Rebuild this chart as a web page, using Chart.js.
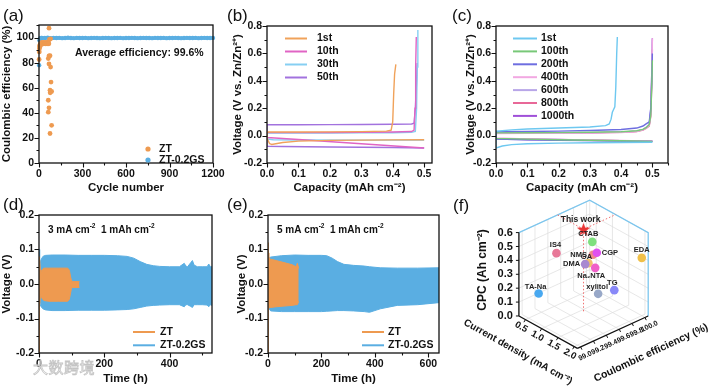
<!DOCTYPE html>
<html>
<head>
<meta charset="utf-8">
<script src="https://cdn.jsdelivr.net/npm/chart.js@4.4.1/dist/chart.umd.min.js"></script>
<style>
  body { margin: 0; background: #fff; }
  #fig { position: relative; width: 709px; height: 386px; overflow: hidden; font-family: 'Liberation Sans', Arial, sans-serif; }
  #fig canvas { position: absolute; }
  .tag { position: absolute; font-size: 17px; line-height: 17px; color: #111; }
  .wm { position: absolute; left: 33px; top: 359px; font-family: 'Noto Sans CJK SC', sans-serif; font-size: 15px; line-height: 16px;
        color: rgba(255,255,255,0.5); -webkit-text-stroke: 0.8px #c4c4c4; letter-spacing: 0.5px; }
</style>
</head>
<body>
<div id="fig">
  <canvas id="ca" width="235" height="195" style="left:0;top:0"></canvas>
  <canvas id="cb" width="239" height="195" style="left:231px;top:0"></canvas>
  <canvas id="cc" width="245" height="195" style="left:464px;top:0"></canvas>
  <canvas id="cd" width="235" height="191" style="left:0;top:195px"></canvas>
  <canvas id="ce" width="235" height="191" style="left:235px;top:195px"></canvas>
  <canvas id="cf" width="249" height="191" style="left:460px;top:195px"></canvas>
  <div class="tag" style="left:3px;top:7px">(a)</div>
  <div class="tag" style="left:227px;top:7px">(b)</div>
  <div class="tag" style="left:452px;top:7px">(c)</div>
  <div class="tag" style="left:3px;top:196px">(d)</div>
  <div class="tag" style="left:227px;top:196px">(e)</div>
  <div class="tag" style="left:453px;top:197px">(f)</div>
  <div class="wm">大数跨境</div>
</div>
<script>
// ---------- data ----------
// (a) coulombic efficiency vs cycle
const ztCycles = [1, 2, 3, 4, 5, 6, 8, 10, 12, 14, 16, 18, 20, 23, 26, 29, 32, 35, 38, 41, 44, 47, 50, 53, 56, 59, 62, 65, 68, 72,
                  69, 80, 69, 64, 76, 69, 80, 83, 76, 87, 77, 64, 69, 64, 87, 76];
const ztCE = [82.5, 88.5, 91, 92.5, 93.5, 94, 93, 95, 94.5, 95.5, 95, 96, 95, 96, 95.5, 96, 95, 96, 95.5, 96, 95, 96, 95.5, 96, 95, 96, 95.5, 96.5, 95, 98.5,
              107.5, 99, 85.3, 83.2, 85.5, 79, 76.5, 64.5, 58, 57, 56, 50, 44, 40.5, 30, 23.5];
const gsCycles = [1, 3, 6, 10, 15, 20, 40, 60, 80, 100, 120, 140, 160, 180, 200, 220, 240, 260, 280, 300, 320, 340, 360, 380, 400,
                  420, 440, 460, 480, 500, 520, 540, 560, 580, 600, 620, 640, 660, 680, 700, 720, 740, 760, 780, 800, 820, 840, 860,
                  880, 900, 920, 940, 960, 980, 1000, 1020, 1040, 1060, 1080, 1100, 1120, 1140, 1160, 1180, 1200];
const gsCE = [78.0, 97.8, 99.1, 99.4, 99.6, 99.7, 99.6, 99.8, 99.5, 99.7, 99.6, 99.7, 99.5, 99.6, 99.8, 99.6, 99.5, 99.7, 99.6, 99.6,
              99.7, 99.5, 99.6, 99.7, 99.6, 99.5, 99.6, 99.7, 99.6, 99.5, 99.6, 99.6, 99.7, 99.5, 99.6, 99.6, 99.7, 99.6, 99.5, 99.6,
              99.7, 99.6, 99.6, 99.5, 99.7, 99.6, 99.6, 99.7, 99.5, 99.6, 99.6, 99.7, 99.6, 99.5, 99.6, 99.7, 99.6, 99.6, 99.7, 99.5,
              99.6, 99.7, 99.6, 99.6, 99.7];

// (b) ZT voltage profiles
const bLabels = ['1st', '10th', '30th', '50th'];
const b1Cap = [0.5, 0.4, 0.3, 0.2, 0.1, 0.05, 0.015, 0.008, 0, 0, 0.1, 0.2, 0.3, 0.38, 0.395, 0.4, 0.403, 0.406, 0.41];
const b1Volt = [-0.03, -0.031, -0.033, -0.035, -0.04, -0.05, -0.065, -0.058, -0.02, 0.026, 0.026, 0.027, 0.029, 0.033, 0.04, 0.1, 0.3, 0.45, 0.52];
const b10Cap = [0.5, 0.3, 0.1, 0, 0, 0.1, 0.2, 0.3, 0.4, 0.46, 0.468, 0.471, 0.473, 0.475];
const b10Volt = [-0.09, -0.06, -0.029, -0.014, 0.022, 0.022, 0.023, 0.024, 0.026, 0.03, 0.04, 0.2, 0.5, 0.72];
const b30Cap = [0.5, 0.3, 0.1, 0.02, 0, 0, 0.1, 0.2, 0.3, 0.4, 0.46, 0.472, 0.476, 0.478, 0.48];
const b30Volt = [-0.033, -0.033, -0.032, -0.03, -0.025, 0.018, 0.018, 0.019, 0.02, 0.021, 0.024, 0.03, 0.2, 0.5, 0.77];
const b50Cap = [0.5, 0.4, 0.2, 0.05, 0, 0, 0.1, 0.2, 0.3, 0.4, 0.46, 0.468, 0.472, 0.476, 0.478];
const b50Volt = [-0.09, -0.087, -0.083, -0.08, -0.079, 0.079, 0.079, 0.08, 0.081, 0.083, 0.085, 0.09, 0.2, 0.4, 0.53];

// (c) ZT-0.2GS voltage profiles
const cLabels = ['1st', '100th', '200th', '400th', '600th', '800th', '1000th'];
const c1Cap = [0.5, 0.4, 0.3, 0.2, 0.1, 0.05, 0.02, 0, 0, 0.05, 0.1, 0.2, 0.3, 0.35, 0.362, 0.368, 0.372, 0.376, 0.38, 0.383, 0.386, 0.388];
const c1Volt = [-0.048, -0.05, -0.052, -0.055, -0.06, -0.066, -0.076, -0.09, 0.032, 0.042, 0.048, 0.055, 0.063, 0.073, 0.085, 0.12, 0.17, 0.19, 0.21, 0.35, 0.6, 0.72];
const cCapN = [0.5, 0.4, 0.3, 0.2, 0.1, 0, 0, 0.1, 0.2, 0.3, 0.4, 0.45, 0.47, 0.48, 0.49, 0.495, 0.498, 0.5];
const c100Volt = [-0.042, -0.038, -0.034, -0.03, -0.026, -0.02, 0.02, 0.021, 0.022, 0.024, 0.028, 0.035, 0.045, 0.058, 0.08, 0.15, 0.35, 0.55];
const c200Volt = [-0.043, -0.04, -0.037, -0.034, -0.03, -0.025, 0.028, 0.03, 0.033, 0.037, 0.045, 0.055, 0.07, 0.085, 0.1, 0.2, 0.4, 0.6];
const c400Volt = [-0.04, -0.036, -0.032, -0.028, -0.024, -0.018, 0.015, 0.016, 0.017, 0.019, 0.023, 0.03, 0.042, 0.055, 0.075, 0.15, 0.4, 0.71];
const c600Volt = [-0.042, -0.039, -0.036, -0.033, -0.03, -0.026, 0.018, 0.019, 0.02, 0.022, 0.026, 0.033, 0.045, 0.06, 0.085, 0.2, 0.45, 0.7];
const c800Volt = [-0.04, -0.037, -0.034, -0.031, -0.028, -0.022, 0.016, 0.017, 0.018, 0.02, 0.024, 0.03, 0.04, 0.052, 0.07, 0.14, 0.38, 0.63];
const c1000Volt = [-0.041, -0.037, -0.033, -0.029, -0.025, -0.02, 0.017, 0.018, 0.019, 0.021, 0.025, 0.032, 0.043, 0.057, 0.08, 0.18, 0.45, 0.71];

// (d) 3 mA cm-2 cycling: envelope of the voltage oscillation
const dGsTime = [0, 2, 6, 12, 20, 40, 80, 120, 160, 200, 240, 270, 290, 310, 330, 350, 370, 400, 430, 445, 450, 455, 465, 470, 475, 485, 500, 515, 520, 525, 530];
const dGsUpper = [0.1, 0.05, 0.07, 0.08, 0.083, 0.084, 0.084, 0.083, 0.083, 0.083, 0.082, 0.08, 0.075, 0.065, 0.057, 0.053, 0.051, 0.05, 0.05, 0.06, 0.052, 0.05, 0.062, 0.068, 0.055, 0.05, 0.05, 0.05, 0.058, 0.05, 0.05];
const dGsLower = [-0.05, -0.05, -0.065, -0.072, -0.075, -0.077, -0.077, -0.076, -0.076, -0.076, -0.075, -0.074, -0.072, -0.068, -0.064, -0.062, -0.061, -0.06, -0.06, -0.066, -0.06, -0.06, -0.065, -0.068, -0.06, -0.06, -0.06, -0.061, -0.066, -0.06, -0.062];
const dZtTime = [2, 5, 8, 15, 30, 60, 88, 93, 97, 100, 110, 120, 124];
const dZtUpper = [0.07, 0.03, 0.04, 0.046, 0.046, 0.046, 0.046, 0.04, 0.02, 0.008, 0.007, 0.007, 0.007];
const dZtLower = [-0.06, -0.03, -0.04, -0.048, -0.05, -0.05, -0.05, -0.044, -0.025, -0.01, -0.01, -0.01, -0.01];
const dZtSpikeTime = [1, 1];
const dZtSpikeVolt = [-0.2, 0.08];

// (e) 5 mA cm-2 cycling
const eGsTime = [0, 3, 10, 50, 100, 150, 200, 220, 240, 260, 284, 320, 360, 380, 420, 484, 560, 640];
const eGsUpper = [0.05, 0.075, 0.078, 0.082, 0.084, 0.083, 0.083, 0.082, 0.075, 0.065, 0.057, 0.054, 0.052, 0.05, 0.047, 0.046, 0.046, 0.047];
const eGsLower = [-0.05, -0.07, -0.078, -0.08, -0.08, -0.08, -0.08, -0.079, -0.078, -0.077, -0.077, -0.078, -0.08, -0.082, -0.072, -0.062, -0.06, -0.054];
const eZtTime = [1, 3, 10, 30, 60, 90, 105, 110, 115];
const eZtUpper = [0.09, 0.075, 0.072, 0.068, 0.062, 0.056, 0.05, 0.06, 0.045];
const eZtLower = [-0.07, -0.07, -0.068, -0.066, -0.064, -0.062, -0.06, -0.06, -0.05];
const eZtSpikeTime = [1, 1];
const eZtSpikeVolt = [-0.2, 0.12];

// (f) comparison with other additives
const additives = ['This work', 'CTAB', 'IS4', 'NMS', 'CGP', 'GA', 'DMA', 'Na\u2082NTA', 'EDA', 'TG', 'xylitol', 'TA-Na'];
const currentDensity = [1.1, 1.35, 0.94, 1.37, 1.45, 1.31, 1.21, 1.42, 2.06, 1.73, 1.49, 0.61];
const coulombicEff = [99.55, 99.56, 99.21, 99.56, 99.58, 99.52, 99.52, 99.57, 99.97, 99.71, 99.58, 99.10];
const cpcValues = [0.6, 0.54, 0.48, 0.45, 0.47, 0.39, 0.37, 0.36, 0.43, 0.21, 0.18, 0.17];
const cpcTicks = [0, 0.1, 0.2, 0.3, 0.4, 0.5, 0.6];
const cdTicks = [0.5, 1.0, 1.5, 2.0];
const ceTicks = [99.0, 99.2, 99.4, 99.6, 99.8, 100.0];

// ---------- styles ----------
const FONT = "'Liberation Sans', Arial, sans-serif";
const ORANGE = '#EE9A50';
const BLUE = '#5AAEE2';
const bColors = ['#F0A25A', '#E064C4', '#86CFF2', '#A272DE'];
const cColors = ['#6EC8F0', '#78C878', '#6E6EE0', '#F2A8E2', '#B8A6E8', '#E86898', '#A050D8'];
const fColors = ['#E83535', '#7EE07E', '#E87898', '#F08888', '#E050F0', '#F0C070', '#A888D0', '#F060C8', '#F0C048', '#8888F8', '#98A8C8', '#48A8F0'];

const isMul = (v, m) => Math.abs(v / m - Math.round(v / m)) < 1e-6;
const zip = (xs, ys) => xs.map((x, i) => ({ x: x, y: ys[i] }));

function axis(min, max, step, major, fmt, title, size, isX) {
  return {
    type: 'linear', min: min, max: max,
    grid: { display: false, drawTicks: false },
    border: { display: false },
    ticks: {
      stepSize: step, autoSkip: false, includeBounds: false, maxRotation: 0, padding: 5, color: '#111',
      font: { family: FONT, size: 10.5, weight: 'bold' },
      callback: v => isMul(v, major) ? fmt(v) : ''
    },
    title: { display: true, text: title, color: '#111', padding: 0, font: { family: FONT, size: 11.5, weight: 'bold' } },
    afterFit: s => { if (isX) s.height = size; else s.width = size; }
  };
}

// frame box + outward major/minor ticks
const frameTicks = {
  id: 'frameTicks',
  afterDatasetsDraw(chart) {
    const { ctx, chartArea: a } = chart;
    const xs = chart.scales.x, ys = chart.scales.y;
    ctx.save();
    ctx.strokeStyle = '#111';
    ctx.lineWidth = 1.1;
    ctx.beginPath();
    xs.ticks.forEach(t => {
      const p = Math.round(xs.getPixelForValue(t.value)) + 0.5;
      ctx.moveTo(p, a.bottom); ctx.lineTo(p, a.bottom + (t.label === '' ? 2.5 : 4.5));
    });
    ys.ticks.forEach(t => {
      const p = Math.round(ys.getPixelForValue(t.value)) + 0.5;
      ctx.moveTo(a.left, p); ctx.lineTo(a.left - (t.label === '' ? 2.5 : 4.5), p);
    });
    ctx.stroke();
    ctx.lineWidth = 1.3;
    ctx.strokeRect(a.left, a.top, a.right - a.left, a.bottom - a.top);
    ctx.restore();
  }
};

function drawRich(ctx, parts, x, y, size) {
  let cx = x;
  parts.forEach(p => {
    const sup = p[1];
    ctx.font = 'bold ' + (sup ? size * 0.65 : size) + 'px ' + FONT;
    ctx.fillText(p[0], cx, sup ? y - size * 0.38 : y);
    cx += ctx.measureText(p[0]).width;
  });
}

function deco(spec) {
  return {
    id: 'deco',
    afterDraw(chart) {
      const ctx = chart.ctx;
      ctx.save();
      ctx.textBaseline = 'middle';
      ctx.textAlign = 'left';
      ctx.fillStyle = '#111';
      (spec.texts || []).forEach(t => drawRich(ctx, t.parts, t.x, t.y, t.size));
      const lg = spec.legend;
      if (lg) {
        lg.labels.forEach((lab, i) => {
          const y = lg.y + i * lg.dy;
          ctx.fillStyle = lg.colors[i];
          ctx.strokeStyle = lg.colors[i];
          if (lg.kind === 'dot') {
            ctx.beginPath(); ctx.arc(lg.x, y, 2.6, 0, Math.PI * 2); ctx.fill();
          } else {
            ctx.lineWidth = 2;
            ctx.beginPath(); ctx.moveTo(lg.x, y); ctx.lineTo(lg.x + lg.len, y); ctx.stroke();
          }
          ctx.fillStyle = '#111';
          ctx.font = 'bold 10.5px ' + FONT;
          ctx.fillText(lab, lg.tx, y);
        });
      }
      ctx.restore();
    }
  };
}

function baseOptions(padTop, padRight) {
  return {
    responsive: false, animation: false, devicePixelRatio: 1,
    layout: { padding: { top: padTop, right: padRight, left: 0, bottom: 0 } },
    plugins: { legend: { display: false }, tooltip: { enabled: false } },
    elements: { point: { radius: 0 }, line: { tension: 0 } }
  };
}

// ---------- (a) ----------
{
  const opt = baseOptions(25, 22);
  opt.scales = {
    x: axis(0, 1200, 150, 300, v => String(v), 'Cycle number', 32, true),
    y: axis(0, 110, 10, 20, v => String(v), 'Coulombic efficiency (%)', 39, false)
  };
  new Chart(document.getElementById('ca'), {
    type: 'scatter',
    data: {
      datasets: [
        { label: 'ZT', data: zip(ztCycles, ztCE), pointRadius: 2.4, pointBorderWidth: 0, backgroundColor: ORANGE, clip: 4 },
        { label: 'ZT-0.2GS', data: zip(gsCycles, gsCE), showLine: true, borderColor: BLUE, borderWidth: 3,
          segment: { borderColor: c => c.p0DataIndex === 0 ? 'rgba(0,0,0,0)' : undefined },
          pointRadius: 2.2, pointBorderWidth: 0, backgroundColor: BLUE, clip: 4 }
      ]
    },
    options: opt,
    plugins: [frameTicks, deco({
      texts: [{ parts: [['Average efficiency: 99.6%', 0]], x: 75, y: 53, size: 10.5 }],
      legend: { kind: 'dot', labels: ['ZT', 'ZT-0.2GS'], colors: [ORANGE, BLUE], x: 148, tx: 159, y: 149, dy: 11 }
    })]
  });
}

// ---------- (b) ----------
{
  const opt = baseOptions(26, 38);
  opt.scales = {
    x: axis(0, 0.525, 0.05, 0.1, v => v.toFixed(1), 'Capacity (mAh cm\u207B\u00B2)', 32, true),
    y: axis(-0.2, 0.8, 0.1, 0.2, v => v.toFixed(1), 'Voltage (V vs. Zn/Zn\u00B2\u207A)', 36, false)
  };
  const curves = [[b1Cap, b1Volt], [b10Cap, b10Volt], [b30Cap, b30Volt], [b50Cap, b50Volt]];
  new Chart(document.getElementById('cb'), {
    type: 'line',
    data: {
      datasets: curves.map((c, i) => ({ label: bLabels[i], data: zip(c[0], c[1]), borderColor: bColors[i], borderWidth: 1.4, fill: false }))
    },
    options: opt,
    plugins: [frameTicks, deco({
      legend: { kind: 'line', labels: bLabels, colors: bColors, x: 54, len: 22, tx: 86, y: 38.5, dy: 13 }
    })]
  });
}

// ---------- (c) ----------
{
  const opt = baseOptions(26, 41);
  opt.scales = {
    x: axis(0, 0.55, 0.05, 0.1, v => v.toFixed(1), 'Capacity (mAh cm\u207B\u00B2)', 32, true),
    y: axis(-0.2, 0.8, 0.1, 0.2, v => v.toFixed(1), 'Voltage (V vs. Zn/Zn\u00B2\u207A)', 32, false)
  };
  const volts = [c100Volt, c200Volt, c400Volt, c600Volt, c800Volt, c1000Volt];
  const sets = [{ label: cLabels[0], data: zip(c1Cap, c1Volt), borderColor: cColors[0], borderWidth: 1.4, fill: false }];
  volts.forEach((v, i) => sets.push({ label: cLabels[i + 1], data: zip(cCapN, v), borderColor: cColors[i + 1], borderWidth: 1.4, fill: false }));
  new Chart(document.getElementById('cc'), {
    type: 'line',
    data: { datasets: sets },
    options: opt,
    plugins: [frameTicks, deco({
      legend: { kind: 'line', labels: cLabels, colors: cColors, x: 49, len: 24, tx: 77, y: 38.5, dy: 12.9 }
    })]
  });
}

// ---------- (d) and (e) ----------
function cyclingChart(id, padRight, xmax, zt, gs, rate) {
  const opt = baseOptions(20, padRight);
  opt.scales = {
    x: axis(0, xmax, 100, 200, v => String(v), 'Time (h)', 33, true),
    y: axis(-0.2, 0.2, 0.05, 0.1, v => v.toFixed(1), 'Voltage (V)', id === 'cd' ? 39 : 33, false)
  };
  new Chart(document.getElementById(id), {
    type: 'line',
    data: {
      datasets: [
        { label: 'ZT', data: zip(zt[0], zt[1]), borderColor: ORANGE, backgroundColor: ORANGE, borderWidth: 1, fill: '+1' },
        { label: 'ZT low', data: zip(zt[0], zt[2]), borderColor: ORANGE, borderWidth: 1, fill: false },
        { label: 'ZT start', data: zip(zt[3], zt[4]), borderColor: ORANGE, borderWidth: 1.3, fill: false },
        { label: 'ZT-0.2GS', data: zip(gs[0], gs[1]), borderColor: BLUE, backgroundColor: BLUE, borderWidth: 1, fill: '+1' },
        { label: 'ZT-0.2GS low', data: zip(gs[0], gs[2]), borderColor: BLUE, borderWidth: 1, fill: false }
      ]
    },
    options: opt,
    plugins: [frameTicks, deco({
      texts: [{ parts: [[rate + ' mA cm', 0], ['-2', 1], ['  1 mAh cm', 0], ['-2', 1]], x: id === 'cd' ? 48 : 42, y: 35, size: 10 }],
      legend: { kind: 'line', labels: ['ZT', 'ZT-0.2GS'], colors: [ORANGE, BLUE],
                x: id === 'cd' ? 133 : 127, len: 22, tx: id === 'cd' ? 160 : 153, y: 137, dy: 13.3 }
    })]
  });
}
cyclingChart('cd', 23, 530, [dZtTime, dZtUpper, dZtLower, dZtSpikeTime, dZtSpikeVolt], [dGsTime, dGsUpper, dGsLower], 3);
cyclingChart('ce', 31, 640, [eZtTime, eZtUpper, eZtLower, eZtSpikeTime, eZtSpikeVolt], [eGsTime, eGsUpper, eGsLower], 5);

// ---------- (f) pseudo-3D scatter ----------
const F_OFF = { x: 460, y: 195 };
const BOX = { ax: 515, ay: 318, u: [62, 35], v: [75, -35], w: [0, -90] };
const cdRange = [0.3, 2.1], ceRange = [98.95, 100.05], cpcRange = [0, 0.6];
const fa = cd => (cd - cdRange[0]) / (cdRange[1] - cdRange[0]);
const fb = ce => (ce - ceRange[0]) / (ceRange[1] - ceRange[0]);
const fh = c => (c - cpcRange[0]) / (cpcRange[1] - cpcRange[0]);
function projFrac(a, b, h) {
  return {
    x: BOX.ax - F_OFF.x + a * BOX.u[0] + b * BOX.v[0] + h * BOX.w[0],
    y: BOX.ay - F_OFF.y + a * BOX.u[1] + b * BOX.v[1] + h * BOX.w[1]
  };
}
const labelOffsets = [[-3, -10, 'center'], [-4, -8, 'center'], [-1, -8, 'center'], [-6, 0, 'right'], [5, 0, 'left'], [-2, -6, 'center'],
                      [-5, 0, 'right'], [-4, 8, 'center'], [0, -8, 'center'], [-2, -7, 'center'], [-1, -7, 'center'], [-3, -7, 'center']];

const starImg = document.createElement('canvas');
starImg.width = 15; starImg.height = 15;
{
  const g = starImg.getContext('2d');
  g.fillStyle = fColors[0];
  g.beginPath();
  for (let k = 0; k < 10; k++) {
    const r = k % 2 === 0 ? 7 : 2.9;
    const ang = -Math.PI / 2 + k * Math.PI / 5;
    const px = 7.5 + r * Math.cos(ang), py = 8 + r * Math.sin(ang);
    if (k === 0) g.moveTo(px, py); else g.lineTo(px, py);
  }
  g.closePath(); g.fill();
}

const fBox = {
  id: 'fBox',
  beforeDatasetsDraw(chart) {
    const { ctx, scales: { x: sx, y: sy } } = chart;
    const P = (a, b, h) => { const p = projFrac(a, b, h); return [sx.getPixelForValue(p.x), sy.getPixelForValue(p.y)]; };
    const seg = (p, q) => { ctx.moveTo(p[0], p[1]); ctx.lineTo(q[0], q[1]); };
    ctx.save();
    // grid on back walls and floor
    ctx.strokeStyle = '#dcdcdc'; ctx.lineWidth = 0.7;
    ctx.beginPath();
    cpcTicks.slice(1).forEach(c => { const h = fh(c); seg(P(0, 0, h), P(0, 1, h)); seg(P(0, 1, h), P(1, 1, h)); });
    ceTicks.forEach(ce => { const b = fb(ce); seg(P(0, b, 0), P(0, b, 1)); seg(P(0, b, 0), P(1, b, 0)); });
    cdTicks.forEach(cd => { const a = fa(cd); seg(P(a, 1, 0), P(a, 1, 1)); seg(P(a, 0, 0), P(a, 1, 0)); });
    seg(P(0, 1, 0), P(0, 1, 1));
    ctx.stroke();
    // light-blue box edges
    ctx.strokeStyle = '#7CC6EE'; ctx.lineWidth = 1.3;
    ctx.beginPath();
    const t1 = P(0, 0, 1), t2 = P(0, 1, 1), t3 = P(1, 1, 1), t4 = P(1, 1, 0);
    ctx.moveTo(t1[0], t1[1]); ctx.lineTo(t2[0], t2[1]); ctx.lineTo(t3[0], t3[1]); ctx.lineTo(t4[0], t4[1]);
    ctx.stroke();
    // black axes
    ctx.strokeStyle = '#111'; ctx.lineWidth = 1.3;
    ctx.beginPath();
    seg(P(0, 0, 0), P(0, 0, 1)); seg(P(0, 0, 0), P(1, 0, 0)); seg(P(1, 0, 0), P(1, 1, 0));
    ctx.stroke();
    ctx.lineWidth = 1; ctx.beginPath();
    cpcTicks.forEach(c => { const p = P(0, 0, fh(c)); seg(p, [p[0] - 3, p[1]]); });
    cdTicks.forEach(cd => { const p = P(fa(cd), 0, 0); seg(p, [p[0] - 1.5, p[1] + 2.6]); });
    ceTicks.forEach(ce => { const p = P(1, fb(ce), 0); seg(p, [p[0] + 1.3, p[1] + 2.7]); });
    ctx.stroke();
    // tick labels
    ctx.fillStyle = '#111'; ctx.textBaseline = 'middle';
    ctx.font = 'bold 11px ' + FONT; ctx.textAlign = 'right';
    cpcTicks.forEach(c => { const p = P(0, 0, fh(c)); ctx.fillText(c.toFixed(1), p[0] - 6, p[1]); });
    const angU = Math.atan2(BOX.u[1], BOX.u[0]), angV = Math.atan2(BOX.v[1], BOX.v[0]);
    const rot = (txt, x, y, ang) => { ctx.save(); ctx.translate(x, y); ctx.rotate(ang); ctx.fillText(txt, 0, 0); ctx.restore(); };
    ctx.textAlign = 'center'; ctx.font = 'bold 9.5px ' + FONT;
    cdTicks.forEach(cd => { const p = P(fa(cd), 0, 0); rot(cd.toFixed(1), p[0] - 4.2, p[1] + 7.5, angU); });
    ctx.font = 'bold 7.2px ' + FONT;
    ceTicks.forEach(ce => { const p = P(1, fb(ce), 0); rot(ce.toFixed(1), p[0] + 4.5, p[1] + 9, angV); });
    // axis titles
    ctx.font = 'bold 12px ' + FONT;
    rot('CPC (Ah cm\u207B\u00B2)', 23, 75, -Math.PI / 2);
    ctx.font = 'bold 10px ' + FONT;
    rot('Current density (mA cm\u207B\u00B2)', 58, 157, angU);
    ctx.font = 'bold 10.5px ' + FONT;
    rot('Coulombic efficiency (%)', 191, 158, angV);
    // drop lines for this work
    const a0 = fa(currentDensity[0]), b0 = fb(coulombicEff[0]), h0 = fh(cpcValues[0]);
    ctx.strokeStyle = '#F07070'; ctx.lineWidth = 1; ctx.setLineDash([1.5, 2]);
    ctx.beginPath();
    seg(P(a0, b0, h0), P(a0, b0, 0)); seg(P(a0, b0, h0), P(0, b0, h0)); seg(P(a0, b0, h0), P(a0, 1, h0));
    ctx.stroke();
    ctx.restore();
  },
  afterDatasetsDraw(chart) {
    const ctx = chart.ctx;
    const meta = chart.getDatasetMeta(0);
    ctx.save();
    ctx.fillStyle = '#222'; ctx.textBaseline = 'middle';
    meta.data.forEach((el, i) => {
      const o = labelOffsets[i];
      ctx.font = 'bold ' + (i === 0 ? 8.5 : 7.5) + 'px ' + FONT;
      ctx.textAlign = o[2];
      ctx.fillText(additives[i], el.x + o[0], el.y + o[1]);
    });
    ctx.restore();
  }
};

new Chart(document.getElementById('cf'), {
  type: 'scatter',
  data: {
    datasets: [{
      label: 'additives',
      data: additives.map((n, i) => projFrac(fa(currentDensity[i]), fb(coulombicEff[i]), fh(cpcValues[i]))),
      backgroundColor: fColors, pointBorderWidth: 0,
      pointRadius: additives.map((n, i) => i === 0 ? 7 : 4.3),
      pointStyle: additives.map((n, i) => i === 0 ? starImg : 'circle'),
      clip: false
    }]
  },
  options: {
    responsive: false, animation: false, devicePixelRatio: 1,
    layout: { padding: 0 },
    plugins: { legend: { display: false }, tooltip: { enabled: false } },
    scales: {
      x: { type: 'linear', display: false, min: 0, max: 249 },
      y: { type: 'linear', display: false, min: 0, max: 191, reverse: true }
    }
  },
  plugins: [fBox]
});
</script>
</body>
</html>
